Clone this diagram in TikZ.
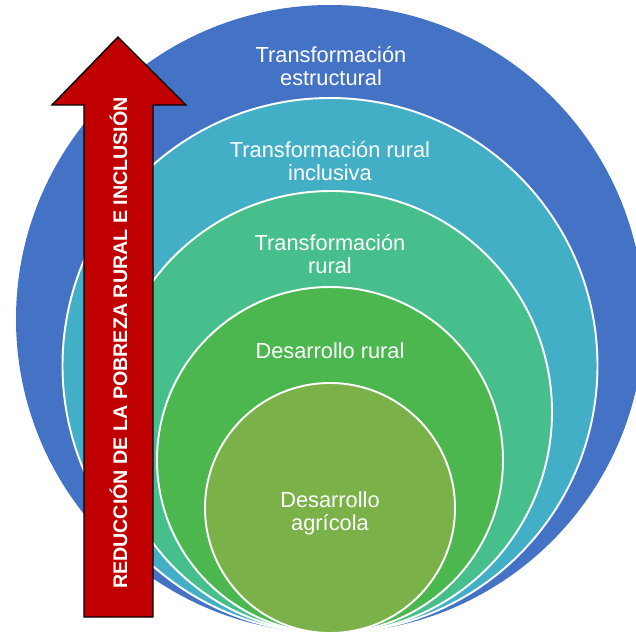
\documentclass[tikz,border=0pt]{standalone}
\usepackage{fontspec}
\setmainfont{Liberation Sans}

\definecolor{azul}{HTML}{4472C4}
\definecolor{cian}{HTML}{43AFC6}
\definecolor{turquesa}{HTML}{47BF8C}
\definecolor{verde}{HTML}{4CB64F}
\definecolor{oliva}{HTML}{7AB148}
\definecolor{rojo}{HTML}{C00000}

\begin{document}
\begin{tikzpicture}[x=0.02cm, y=-0.02cm,
    anillo/.style={draw=white, line width=1.1pt},
    rotulo/.style={text=white, align=center, font=\fontsize{12.4}{13.2}\selectfont}]
    \clip (0,0) rectangle (636,635);

    % Nested circles, all touching at the bottom
    \fill[azul] (330,319) circle (314);
    \filldraw[fill=cian, anillo] (330,365.5) circle (267.5);
    \filldraw[fill=turquesa, anillo] (331,412) circle (221);
    \filldraw[fill=verde, anillo] (330,460) circle (173);
    \filldraw[fill=oliva, anillo] (330,508) circle (125);

    % Labels of each level
    \node[rotulo] (estructural) at (331,66) {Transformación\\estructural};
    \node[rotulo] (inclusiva) at (330,161) {Transformación rural\\inclusiva};
    \node[rotulo] (rural) at (330,254) {Transformación\\rural};
    \node[rotulo] (desarrollo) at (330,351) {Desarrollo rural};
    \node[rotulo] (agricola) at (330,513) {Desarrollo\\agrícola};

    % Upward arrow
    \filldraw[fill=rojo, draw=black, line width=0.8pt]
        (84,617) -- (84,105) -- (52,105) -- (118,37) -- (186,105)
        -- (153,105) -- (153,617) -- cycle;
    \node[rotate=90, anchor=base, text=white,
          font=\fontsize{11.2}{13}\selectfont\bfseries] (lema) at (127,343)
        {REDUCCIÓN DE LA POBREZA RURAL E INCLUSIÓN};
\end{tikzpicture}
\end{document}
